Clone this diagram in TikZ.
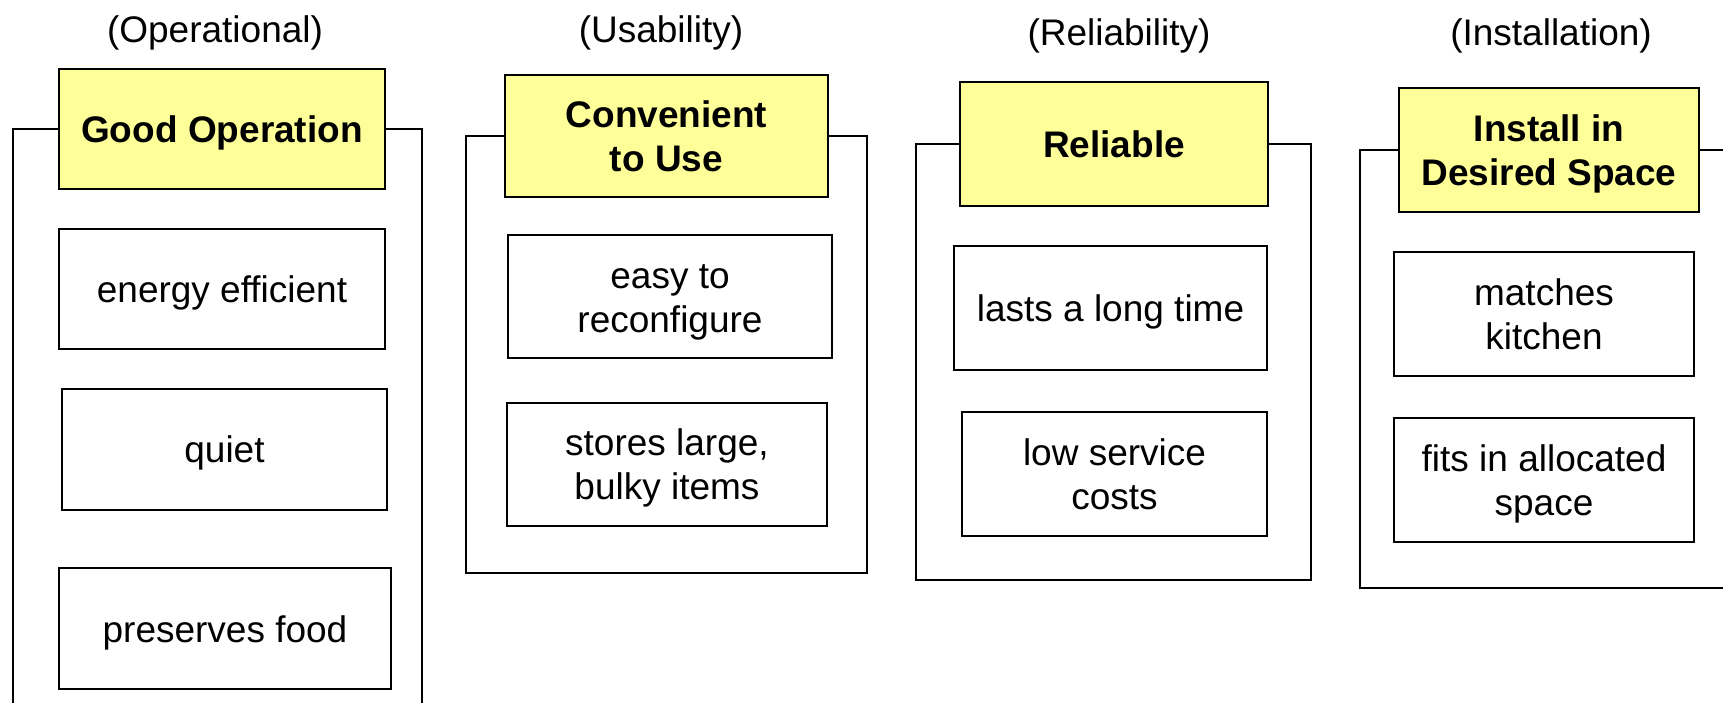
\documentclass[tikz,border=0pt]{standalone}
\usepackage{fontspec}
\setmainfont{Liberation Sans}
\definecolor{hdrfill}{HTML}{FFFF99}
% centred block of lines, set a little low as in a slide text frame
\newcommand\boxtext[1]{\raisebox{-5pt}[\height][\depth]{\begin{tabular}{@{}c@{}}#1\end{tabular}}}
\tikzset{
  txt/.style={font=\fontsize{37}{44}\selectfont},
  itembox/.style={txt, draw=black, line width=2pt, fill=white, inner sep=0pt},
  hdrbox/.style={itembox, fill=hdrfill, font=\fontsize{37}{44}\selectfont\bfseries},
  frame/.style={draw=black, line width=2pt},
  cat/.style={txt, inner sep=0pt}
}
\begin{document}
\begin{tikzpicture}[x=1pt, y=-1pt]
\useasboundingbox (0,0) rectangle (1723,702);
\clip (0,0) rectangle (1723,702);

% category labels
\node[cat] (c1) at (215,28.5)  {\boxtext{(Operational)}};
\node[cat] (c2) at (661,28.5)  {\boxtext{(Usability)}};
\node[cat] (c3) at (1119,31.5) {\boxtext{(Reliability)}};
\node[cat] (c4) at (1551,31.5) {\boxtext{(Installation)}};

% group frames (drawn first so the headers sit on top)
\coordinate (f1tl) at (13,129);   \coordinate (f1br) at (422,760);
\coordinate (f2tl) at (466,136);  \coordinate (f2br) at (867,573);
\coordinate (f3tl) at (916,144);  \coordinate (f3br) at (1311,580);
\coordinate (f4tl) at (1360,150); \coordinate (f4br) at (1780,588);
\draw[frame] (f1tl) rectangle (f1br);
\draw[frame] (f2tl) rectangle (f2br);
\draw[frame] (f3tl) rectangle (f3br);
\draw[frame] (f4tl) rectangle (f4br);

% Operational
\node[hdrbox, minimum width=326pt, minimum height=120pt] (h1) at (222,129) {\boxtext{Good Operation}};
\node[itembox, minimum width=326pt, minimum height=120pt] (a1) at (222,289) {\boxtext{energy efficient}};
\node[itembox, minimum width=325pt, minimum height=121pt] (a2) at (224.5,449) {\boxtext{quiet}};
\node[itembox, minimum width=332pt, minimum height=121pt] (a3) at (225,628.5) {\boxtext{preserves food}};

% Usability
\node[hdrbox, minimum width=323pt, minimum height=122pt] (h2) at (666.5,136) {\boxtext{Convenient\\to Use}};
\node[itembox, minimum width=324pt, minimum height=123pt] (b1) at (670,296.5) {\boxtext{easy to\\reconfigure}};
\node[itembox, minimum width=320pt, minimum height=123pt] (b2) at (667,464) {\boxtext{stores large,\\bulky items}};

% Reliability
\node[hdrbox, minimum width=308pt, minimum height=124pt] (h3) at (1114,144) {\boxtext{Reliable}};
\node[itembox, minimum width=313pt, minimum height=124pt] (r1) at (1110.5,308) {\boxtext{lasts a long time}};
\node[itembox, minimum width=305pt, minimum height=124pt] (r2) at (1114.5,474) {\boxtext{low service\\costs}};

% Installation
\node[hdrbox, minimum width=300pt, minimum height=124pt] (h4) at (1549,150) {\boxtext{Install in\\Desired Space}};
\node[itembox, minimum width=300pt, minimum height=124pt] (i1) at (1544,314) {\boxtext{matches\\kitchen}};
\node[itembox, minimum width=300pt, minimum height=124pt] (i2) at (1544,480) {\boxtext{fits in allocated\\space}};
\end{tikzpicture}
\end{document}
